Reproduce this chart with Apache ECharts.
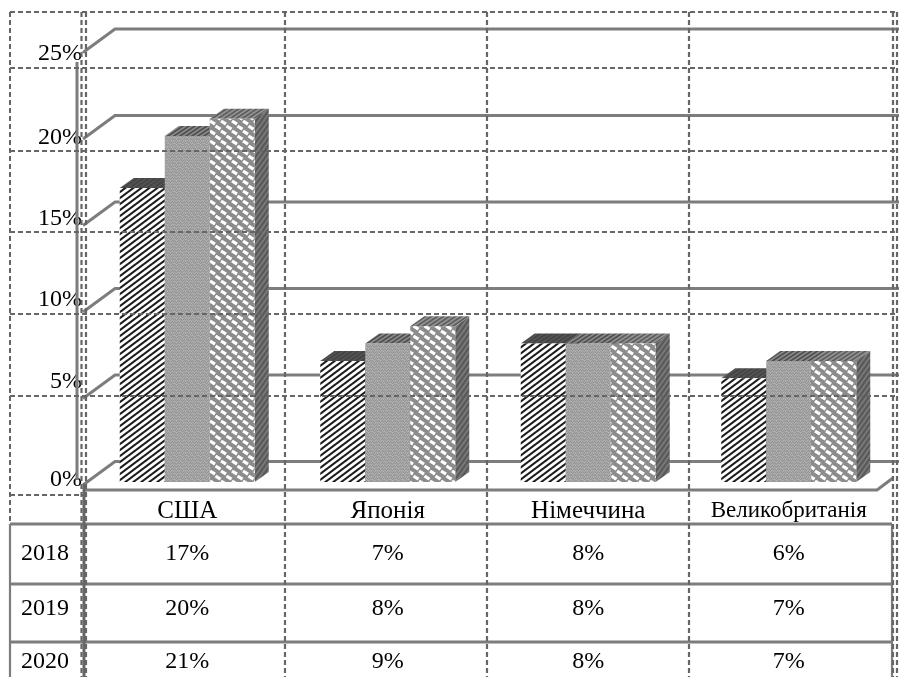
<!DOCTYPE html>
<html>
<head>
<meta charset="utf-8">
<style>html,body{margin:0;padding:0;background:#fff}#chart{width:899px;height:677px}</style>
<script src="https://cdn.jsdelivr.net/npm/echarts@6/dist/echarts.min.js"></script>
</head>
<body>
<div id="chart"></div>
<script>
// Chart data, in percent
const categories = ['США', 'Японія', 'Німеччина', 'Великобританія'];
const years = ['2018', '2019', '2020'];
const values2018 = [17, 7, 8, 6];
const values2019 = [20, 8, 8, 7];
const values2020 = [21, 9, 8, 7];
const yearValues = [values2018, values2019, values2020];
const yTicks = [0, 5, 10, 15, 20, 25];
// Vertical shift of each value-axis label, upward positive
const yLabelLift = [2, 13.5, 9, 3.5, -2, -4.5];

const SERIF = '"Liberation Serif", "Times New Roman", serif';
const FONT_SIZE = 24;
const LINE = '#7d7d7d';
const DASH = '#666666';

// Repeating tile for a hatched face
function tile(w, h, draw) {
  const c = document.createElement('canvas');
  c.width = w; c.height = h;
  draw(c.getContext('2d'), w, h);
  return { image: c, repeat: 'repeat' };
}
function stripes(bg, fg, w, h, lw) {
  return tile(w, h, (g) => {
    g.fillStyle = bg; g.fillRect(0, 0, w, h);
    g.strokeStyle = fg; g.lineWidth = lw;
    for (let k = -1; k <= 1; k++) {
      g.beginPath();
      g.moveTo(k * w - 1, h + h / w);
      g.lineTo(k * w + w + 1, -h / w);
      g.stroke();
    }
  });
}
const weave = tile(6, 6, (g) => {
  g.fillStyle = '#a6a6a6'; g.fillRect(0, 0, 6, 6);
  g.fillStyle = '#949494';
  [[0,0],[1,1],[2,2],[3,1],[4,0],[5,1],[0,3],[1,4],[2,5],[3,4],[4,3],[5,4]].forEach(p => g.fillRect(p[0], p[1], 1, 1));
  g.fillStyle = '#b8b8b8';
  [[2,0],[5,3],[0,5],[3,2]].forEach(p => g.fillRect(p[0], p[1], 1, 1));
});
const dashes = tile(11, 10, (g) => {
  g.fillStyle = '#8c8c8c'; g.fillRect(0, 0, 11, 10);
  g.strokeStyle = '#ffffff'; g.lineWidth = 3.2; g.lineCap = 'butt';
  for (let ox = -11; ox <= 11; ox += 11) {
    for (let oy = -10; oy <= 10; oy += 10) {
      [[1, 1], [6.5, 6]].forEach(p => {
        g.beginPath();
        g.moveTo(p[0] + ox, p[1] + oy);
        g.lineTo(p[0] + ox + 5, p[1] + oy + 3.2);
        g.stroke();
      });
    }
  }
});

const barFaces = [
  { front: stripes('#ffffff', '#1c1c1c', 8, 6, 2.1), top: stripes('#444444', '#555555', 6, 4, 1.5), side: stripes('#505050', '#6a6a6a', 6, 6, 1.5) },
  { front: weave, top: stripes('#8a8a8a', '#4d4d4d', 6, 4, 1.6), side: stripes('#505050', '#6a6a6a', 6, 6, 1.5) },
  { front: dashes, top: stripes('#939393', '#5c5c5c', 6, 4, 1.6), side: stripes('#5a5a5a', '#7c7c7c', 5, 7, 1.6) }
];

// Oblique projection: bars and walls share one depth direction
const BAR_DEPTH_X = 14, BAR_DEPTH_Y = 10;
const BAR_SHARE = 45 / 200.5;

function barRenderer(seriesIndex) {
  return function (params, api) {
    const cat = api.value(0);
    const top = api.coord([cat, api.value(1)]);
    const base = api.coord([cat, 0]);
    const w = api.size([1, 0])[0] * BAR_SHARE;
    const x0 = top[0] + (seriesIndex - 1.5) * w;
    const x1 = x0 + w;
    const y0 = top[1], yb = base[1];
    const dx = BAR_DEPTH_X, dy = BAR_DEPTH_Y;
    const faces = barFaces[seriesIndex];
    return {
      type: 'group',
      children: [
        { type: 'polygon', shape: { points: [[x1, y0], [x1 + dx, y0 - dy], [x1 + dx, yb - dy], [x1, yb]] }, style: { fill: faces.side } },
        { type: 'polygon', shape: { points: [[x0, y0], [x0 + dx, y0 - dy], [x1 + dx, y0 - dy], [x1, y0]] }, style: { fill: faces.top } },
        { type: 'rect', shape: { x: x0, y: y0, width: w, height: yb - y0 }, style: { fill: faces.front } }
      ]
    };
  };
}

// Back wall: one bent line per tick, plus the floor edge at zero
function wallRenderer(params, api) {
  const y = api.coord([0, api.value(0)])[1];
  const right = 899;
  const lineStyle = { stroke: LINE, lineWidth: 3, fill: null };
  const children = [{
    type: 'polyline',
    shape: { points: [[83, y + 3], [115, y - 20.5], [right, y - 20.5]] },
    style: lineStyle
  }];
  if (api.value(0) === 0) {
    children.push({
      type: 'polyline',
      shape: { points: [[84, y + 8], [877, y + 8], [893, y - 4]] },
      style: lineStyle
    });
  }
  return { type: 'group', children };
}

// Data table under the plot
const TABLE_ROWS = [554, 609, 662];
const tableData = [];
years.forEach((yr, r) => categories.forEach((c, i) => tableData.push([i, r, yearValues[r][i] + '%'])));
function tableRenderer(params, api) {
  const x = api.coord([api.value(0), 0])[0];
  return {
    type: 'text',
    style: { x, y: TABLE_ROWS[api.value(1)], text: tableData[params.dataIndex][2], fill: '#000', font: FONT_SIZE + 'px ' + SERIF, align: 'center', verticalAlign: 'middle' }
  };
}

// Rule lines of the table and the dashed layout frame
function rule(x1, y1, x2, y2, stroke, lineWidth, dashed, z) {
  return {
    type: 'line', silent: true, z,
    shape: { x1, y1, x2, y2 },
    style: { stroke, lineWidth, lineDash: dashed ? [5, 3] : null }
  };
}
const frame = [];
[524, 584, 642].forEach(y => frame.push(rule(10, y, 892, y, LINE, 2.8, false, 40)));
frame.push(rule(10, 524, 10, 677, LINE, 2.2, false, 40));
frame.push(rule(84, 484, 84, 677, '#666', 3, false, 40));
frame.push(rule(892, 524, 892, 677, LINE, 2.2, false, 40));
frame.push(rule(77, 62, 77, 480, LINE, 3, false, 1));
[12, 68, 151, 232, 314, 396].forEach(y => frame.push(rule(10, y, 895, y, DASH, 2, true, 50)));
frame.push(rule(10, 495, 83, 495, DASH, 2, true, 50));
frame.push(rule(10, 12, 10, 522, DASH, 2, true, 50));
[81.5, 86, 285, 487, 689, 893, 897].forEach(x => frame.push(rule(x, 12, x, 677, DASH, 2.2, true, 50)));

const labelRich = {};
yTicks.forEach((t, i) => {
  const lift = yLabelLift[i];
  labelRich['t' + t] = {
    fontFamily: SERIF, fontSize: FONT_SIZE, color: '#000',
    padding: lift >= 0 ? [0, 0, 2 * lift, 0] : [-2 * lift, 0, 0, 0]
  };
});

const chart = echarts.init(document.getElementById('chart'), null, { renderer: 'canvas' });
chart.setOption({
  animation: false,
  backgroundColor: '#fff',
  grid: { left: 87, top: 49.5, width: 802, height: 432.5 },
  xAxis: {
    type: 'category', data: categories,
    axisLine: { show: false }, axisTick: { show: false }, splitLine: { show: false },
    axisLabel: {
      interval: 0, margin: 17, color: '#000',
      // The longest name is set slightly smaller to fit its column
      formatter: (name) => (name.length > 10 ? '{narrow|' + name + '}' : '{wide|' + name + '}'),
      rich: {
        wide: { fontFamily: SERIF, fontSize: 25, color: '#000' },
        narrow: { fontFamily: SERIF, fontSize: 23, color: '#000' }
      }
    }
  },
  yAxis: {
    type: 'value', min: 0, max: 25, interval: 5,
    axisLine: { show: false }, axisTick: { show: false }, splitLine: { show: false },
    axisLabel: { margin: 5, formatter: (v) => '{t' + v + '|' + v + '%}', rich: labelRich }
  },
  graphic: {
    elements: frame.concat(years.map((yr, r) => ({
      type: 'text', z: 45, silent: true,
      style: { x: 45, y: TABLE_ROWS[r], text: yr, fill: '#000', font: FONT_SIZE + 'px ' + SERIF, align: 'center', verticalAlign: 'middle' }
    })))
  },
  series: [
    { type: 'custom', name: 'walls', z: 2, clip: false, silent: true, encode: { y: 0 }, data: yTicks.map(t => [t]), renderItem: wallRenderer },
    ...years.map((yr, s) => ({
      type: 'custom', name: yr, z: 3 + s, clip: false,
      encode: { x: 0, y: 1 },
      data: yearValues[s].map((v, i) => [i, v]),
      renderItem: barRenderer(s)
    })),
    { type: 'custom', name: 'table', z: 45, clip: false, silent: true, encode: { x: 0 }, data: tableData.map(d => [d[0], d[1]]), renderItem: tableRenderer }
  ]
});
</script>
</body>
</html>
